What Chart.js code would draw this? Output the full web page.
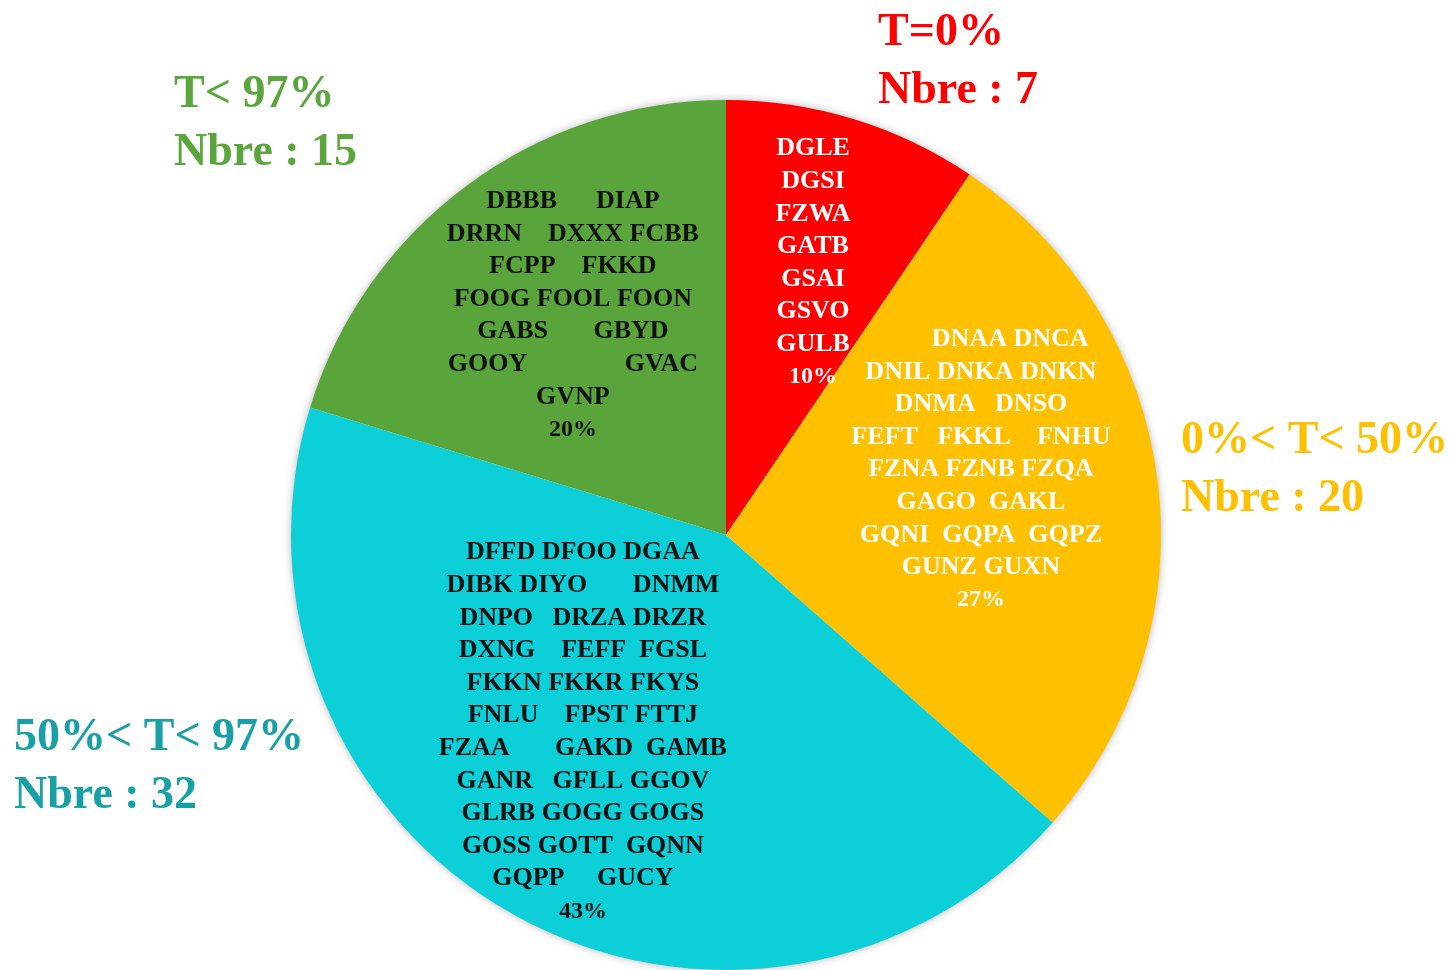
<!DOCTYPE html>
<html>
<head>
<meta charset="utf-8">
<script src="https://cdn.jsdelivr.net/npm/chart.js@4.4.1/dist/chart.umd.min.js"></script>
<style>
  html, body { margin: 0; padding: 0; background: #ffffff; overflow: hidden; }
  #wrap { width: 1449px; height: 970px; position: relative; }
</style>
</head>
<body>
<div id="wrap"><canvas id="c"></canvas></div>
<script>
// ---- data ----
const categories = ['T=0%', '0%< T< 50%', '50%< T< 97%', 'T< 97%'];
const counts = [7, 20, 32, 15];
const percentLabels = ['10%', '27%', '43%', '20%'];
const stationsT0 = ['DGLE', 'DGSI', 'FZWA', 'GATB', 'GSAI', 'GSVO', 'GULB'];
const stationsT0to50 = [
  '         DNAA DNCA', 'DNIL DNKA DNKN', 'DNMA   DNSO', 'FEFT   FKKL    FNHU',
  'FZNA FZNB FZQA', 'GAGO  GAKL', 'GQNI  GQPA  GQPZ', 'GUNZ GUXN'
];
const stationsT50to97 = [
  'DFFD DFOO DGAA', 'DIBK DIYO       DNMM', 'DNPO   DRZA DRZR', 'DXNG    FEFF  FGSL',
  'FKKN FKKR FKYS', 'FNLU    FPST FTTJ', 'FZAA       GAKD  GAMB', 'GANR   GFLL GGOV',
  'GLRB GOGG GOGS', 'GOSS GOTT  GQNN', 'GQPP     GUCY'
];
const stationsT97 = [
  'DBBB      DIAP', 'DRRN    DXXX FCBB', 'FCPP    FKKD', 'FOOG FOOL FOON',
  'GABS       GBYD', 'GOOY               GVAC', 'GVNP'
];
const stationLists = [stationsT0, stationsT0to50, stationsT50to97, stationsT97];

// ---- styles ----
const sliceColors = ['#FF0000', '#FFC000', '#0DCFD8', '#59A53B'];
const innerTextColors = ['#FFFFFF', '#FFFFFF', '#111111', '#111111'];
const outerTextColors = ['#FF0000', '#FFC000', '#17A0A6', '#5AA63C'];
// label block centre, as fraction of radius from pie centre
const innerAnchors = [[0.200, -0.626], [0.586, -0.150], [-0.329, 0.453], [-0.352, -0.505]];
// outer caption positions (left x, first baseline y)
const outerPos = [[878, 45], [1181, 453], [14, 750], [174, 107]];
const FONT = '"Liberation Serif", "DejaVu Serif", serif';

const pieShadow = {
  id: 'pieShadow',
  beforeDatasetsDraw(chart) {
    const arc = chart.getDatasetMeta(0).data[0];
    if (!arc) return;
    const ctx = chart.ctx;
    ctx.save();
    ctx.beginPath();
    ctx.arc(arc.x, arc.y, arc.outerRadius - 1, 0, Math.PI * 2);
    ctx.fillStyle = '#ffffff';
    ctx.shadowColor = 'rgba(0,0,0,0.35)';
    ctx.shadowBlur = 10;
    ctx.fill();
    ctx.restore();
  }
};

const labelsPlugin = {
  id: 'labelsPlugin',
  afterDatasetsDraw(chart) {
    const ctx = chart.ctx;
    const meta = chart.getDatasetMeta(0);
    const lineH = 32.6;
    meta.data.forEach((arc, i) => {
      const r = arc.outerRadius;
      const cx = arc.x + innerAnchors[i][0] * r;
      const cy = arc.y + innerAnchors[i][1] * r;
      const lines = stationLists[i].concat([percentLabels[i]]);
      ctx.save();
      ctx.fillStyle = innerTextColors[i];
      ctx.textAlign = 'center';
      ctx.textBaseline = 'middle';
      lines.forEach((t, k) => {
        const isPct = k === lines.length - 1;
        ctx.font = (isPct ? 'bold 24px ' : 'bold 26px ') + FONT;
        ctx.fillText(t, cx, cy + (k - (lines.length - 1) / 2) * lineH);
      });
      ctx.restore();
      // outer caption
      ctx.save();
      ctx.fillStyle = outerTextColors[i];
      ctx.textAlign = 'left';
      ctx.textBaseline = 'alphabetic';
      ctx.font = 'bold 46px ' + FONT;
      ctx.fillText(categories[i], outerPos[i][0], outerPos[i][1]);
      ctx.fillText('Nbre : ' + counts[i], outerPos[i][0], outerPos[i][1] + 58);
      ctx.restore();
    });
  }
};

new Chart(document.getElementById('c'), {
  type: 'pie',
  data: {
    labels: categories,
    datasets: [{
      data: counts,
      backgroundColor: sliceColors,
      borderWidth: 0
    }]
  },
  options: {
    responsive: true,
    maintainAspectRatio: false,
    animation: false,
    layout: { padding: { top: 100, bottom: 0, left: 3, right: 0 } },
    plugins: { legend: { display: false }, tooltip: { enabled: false } }
  },
  plugins: [pieShadow, labelsPlugin]
});
</script>
</body>
</html>
